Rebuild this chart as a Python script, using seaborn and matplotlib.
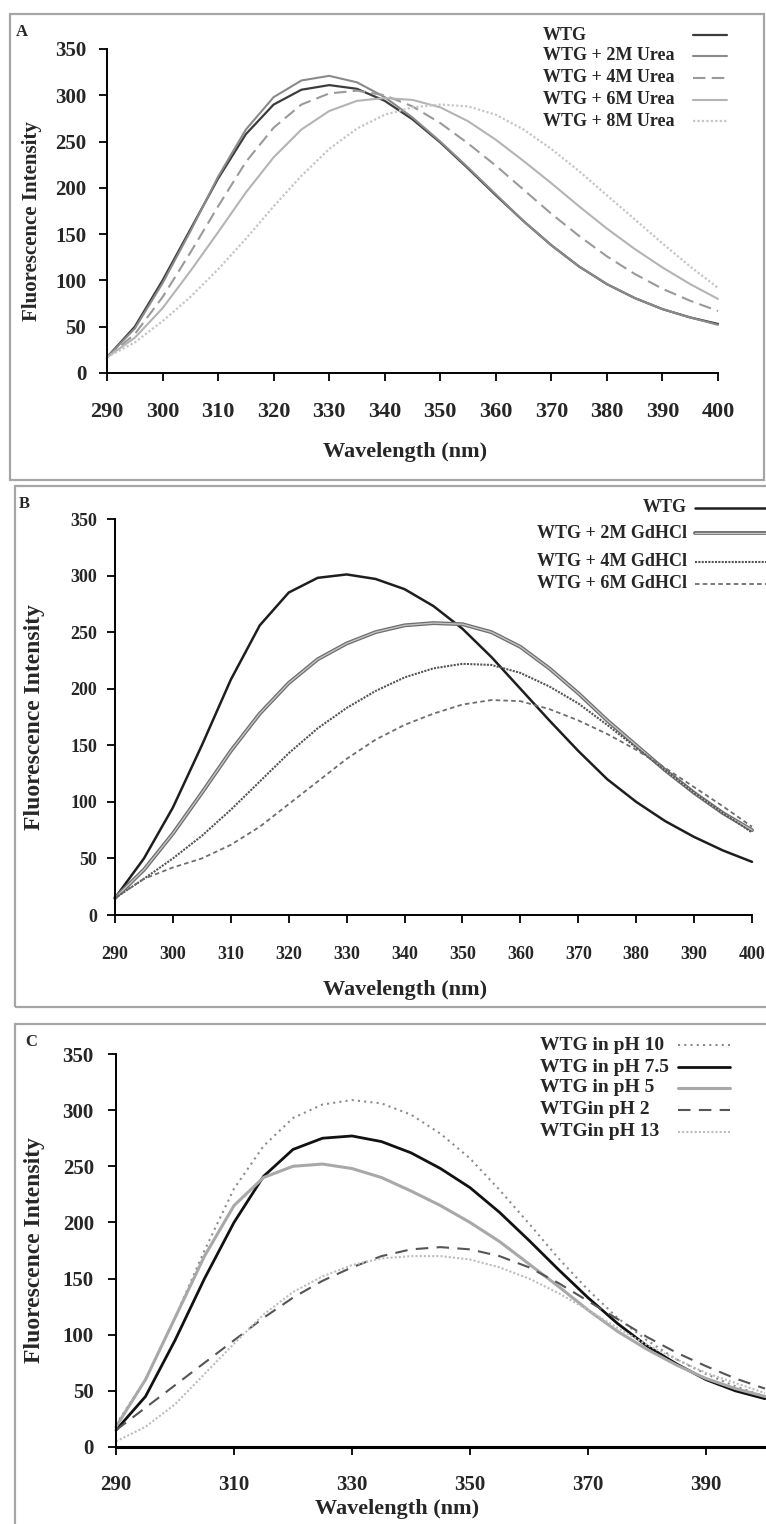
import matplotlib
matplotlib.use("Agg")
import matplotlib.pyplot as plt
from matplotlib.lines import Line2D
from matplotlib.patches import Rectangle
import pandas as pd
import seaborn as sns

# ---------------------------------------------------------------- data
wavelength = [290, 295, 300, 305, 310, 315, 320, 325, 330, 335, 340, 345,
              350, 355, 360, 365, 370, 375, 380, 385, 390, 395, 400]

# Panel A: urea denaturation
urea_labels = ["WTG", "WTG + 2M Urea", "WTG + 4M Urea", "WTG + 6M Urea", "WTG + 8M Urea"]
urea_wtg = [17, 50, 100, 155, 210, 258, 290, 306, 311, 307, 294, 274,
            249, 221, 192, 164, 138, 115, 96, 81, 69, 60, 53]
urea_2m = [17, 48, 97, 153, 212, 263, 298, 316, 321, 314, 298, 276,
           250, 222, 193, 164, 138, 115, 96, 81, 69, 60, 52]
urea_4m = [17, 42, 82, 130, 180, 228, 265, 290, 302, 305, 300, 288,
           270, 248, 224, 198, 172, 148, 126, 107, 91, 78, 67]
urea_6m = [17, 38, 70, 110, 152, 195, 233, 263, 283, 294, 297, 295,
           287, 272, 252, 229, 205, 180, 156, 134, 114, 96, 80]
urea_8m = [17, 33, 56, 82, 112, 145, 180, 213, 242, 264, 279, 287,
           290, 288, 279, 263, 242, 218, 192, 166, 140, 115, 92]

# Panel B: GdHCl denaturation
gdhcl_labels = ["WTG", "WTG + 2M GdHCl", "WTG + 4M GdHCl", "WTG + 6M GdHCl"]
gdhcl_wtg = [15, 50, 95, 150, 208, 256, 285, 298, 301, 297, 288, 273,
             253, 228, 200, 172, 145, 120, 100, 83, 69, 57, 47]
gdhcl_2m = [15, 40, 72, 108, 145, 178, 205, 226, 240, 250, 256, 258,
            257, 250, 237, 218, 196, 172, 150, 128, 108, 90, 75]
gdhcl_4m = [15, 32, 50, 70, 93, 118, 143, 165, 183, 198, 210, 218,
            222, 221, 214, 202, 187, 168, 148, 128, 108, 90, 73]
gdhcl_6m = [15, 32, 42, 50, 62, 78, 98, 118, 138, 155, 168, 178,
            186, 190, 189, 182, 172, 160, 146, 130, 113, 96, 78]

# Panel C: pH series
ph_labels = ["WTG in pH 10", "WTG in pH 7.5", "WTG in pH 5", "WTGin pH 2", "WTGin pH 13"]
ph_10 = [20, 60, 115, 175, 230, 268, 293, 305, 309, 306, 296, 279,
         257, 229, 199, 168, 140, 115, 95, 78, 65, 54, 45]
ph_75 = [15, 45, 95, 150, 200, 241, 265, 275, 277, 272, 262, 248,
         231, 209, 184, 158, 133, 110, 90, 74, 60, 50, 43]
ph_5 = [18, 60, 115, 170, 215, 240, 250, 252, 248, 240, 228, 215,
        200, 183, 163, 143, 122, 103, 87, 73, 61, 52, 45]
ph_2 = [15, 35, 55, 75, 95, 115, 133, 148, 160, 170, 176, 178,
        176, 170, 160, 146, 130, 114, 98, 84, 72, 61, 52]
ph_13 = [5, 18, 38, 65, 92, 118, 138, 152, 162, 168, 170, 170,
         167, 160, 150, 137, 122, 106, 91, 78, 66, 57, 48]

# ---------------------------------------------------------------- styling
sns.set_style("ticks")
plt.rcParams["font.family"] = ["Liberation Serif", "DejaVu Serif"]
plt.rcParams["font.weight"] = "bold"

W, H = 766, 1524
fig = plt.figure(figsize=(W / 100, H / 100), dpi=100)
fig.patch.set_facecolor("white")


def fx(x):
    return x / W


def fy(y):
    return 1 - y / H


def make_axes(left, right, top, bottom):
    return fig.add_axes([fx(left), fy(bottom), (right - left) / W, (bottom - top) / H])


def frame(x0, y0, x1, y1):
    fig.add_artist(Rectangle((fx(x0), fy(y1)), (x1 - x0) / W, (y1 - y0) / H,
                             transform=fig.transFigure, fill=False,
                             edgecolor="#a6a6a6", lw=1.6))


def style_axes(ax, xticks, xfs, yfs, xpad, ypad):
    ax.set_xlim(290, 400)
    ax.set_ylim(0, 350)
    sns.despine(ax=ax)
    ax.set_yticks(range(0, 351, 50))
    ax.set_xticks(xticks)
    ax.tick_params(direction="out", length=6, width=1.3, color="black")
    ax.tick_params(axis="x", pad=xpad, labelsize=xfs)
    ax.tick_params(axis="y", pad=ypad, labelsize=yfs)
    for lab in ax.get_xticklabels() + ax.get_yticklabels():
        lab.set_fontweight("bold")
    for s in ("left", "bottom"):
        ax.spines[s].set_linewidth(1.4)
        ax.spines[s].set_color("black")
    ax.set_xlabel("")
    ax.set_ylabel("")
    ax.patch.set_alpha(0)


def draw_series(ax, ys, label, color, ls, lw, inner=None):
    df = pd.DataFrame({"wavelength": wavelength, "intensity": ys})
    sns.lineplot(data=df, x="wavelength", y="intensity", ax=ax, color=color,
                 linestyle=ls, lw=lw, label=label, legend=False, clip_on=False)
    if inner is not None:
        # lighter core gives the doubled-stroke look
        sns.lineplot(data=df, x="wavelength", y="intensity", ax=ax, color=inner,
                     linestyle=ls, lw=lw * 0.35, legend=False, clip_on=False)


def legend_rows(labels, styles, text_x, line_x0, line_x1, rows_y, fs, ha="left"):
    for label, st, y in zip(labels, styles, rows_y):
        color, ls, lw = st[:3]
        fig.text(fx(text_x), fy(y), label, ha=ha, va="center", fontsize=fs,
                 fontweight="bold")
        fig.add_artist(Line2D([fx(line_x0), fx(line_x1)], [fy(y), fy(y)],
                              transform=fig.transFigure, color=color,
                              linestyle=ls, lw=lw))
        if len(st) > 3 and st[3] is not None:
            fig.add_artist(Line2D([fx(line_x0), fx(line_x1)], [fy(y), fy(y)],
                                  transform=fig.transFigure, color=st[3],
                                  linestyle=ls, lw=lw * 0.35))


# ---------------------------------------------------------------- panel A
frame(10, 14, 764, 480)
axA = make_axes(107, 718, 49, 373)
stylesA = [("#3c3c3c", "-", 1.6), ("#8a8a8a", "-", 1.5), ("#9a9a9a", (0, (6, 3)), 1.5),
           ("#b4b4b4", "-", 1.5), ("#c6c6c6", (0, (1, 1)), 1.6)]
for ys, lab, st in zip([urea_wtg, urea_2m, urea_4m, urea_6m, urea_8m], urea_labels, stylesA):
    draw_series(axA, ys, lab, *st)
style_axes(axA, range(290, 401, 10), 16, 15, 15, 9)
fig.text(fx(16), fy(32), "A", fontsize=12, fontweight="bold", ha="left", va="center")
fig.text(fx(32), fy(221), "Fluorescence Intensity", rotation=90, fontsize=15,
         fontweight="bold", ha="center", va="center")
fig.text(fx(405), fy(452), "Wavelength (nm)", fontsize=16, fontweight="bold",
         ha="center", va="center")
legend_rows(urea_labels, stylesA, 543, 693, 727, [35, 56, 78, 100, 121], 13)

# ---------------------------------------------------------------- panel B
frame(15, 486, 780, 1007)
axB = make_axes(115, 752, 519, 915)
stylesB = [("#1e1e1e", "-", 1.8, None), ("#6e6e6e", "-", 2.8, "#c4c4c4"),
           ("#555555", (0, (1, 0.6)), 1.5, None), ("#6e6e6e", (0, (2.5, 1.8)), 1.3, None)]
for ys, lab, st in zip([gdhcl_wtg, gdhcl_2m, gdhcl_4m, gdhcl_6m], gdhcl_labels, stylesB):
    draw_series(axB, ys, lab, *st)
style_axes(axB, range(290, 401, 10), 13, 13, 16, 7)
fig.text(fx(19), fy(504), "B", fontsize=12, fontweight="bold", ha="left", va="center")
fig.text(fx(35), fy(717), "Fluorescence Intensity", rotation=90, fontsize=17,
         fontweight="bold", ha="center", va="center")
fig.text(fx(405), fy(990), "Wavelength (nm)", fontsize=16, fontweight="bold",
         ha="center", va="center")
legend_rows(gdhcl_labels, stylesB, 687, 695, 770, [508, 533, 562, 584], 13, ha="right")

# ---------------------------------------------------------------- panel C
frame(15, 1024, 780, 1540)
axC = make_axes(116, 765, 1054, 1447)
stylesC = [("#8c8c8c", (0, (1, 2)), 1.5), ("#111111", "-", 2.0), ("#a8a8a8", "-", 2.2),
           ("#555555", (0, (6, 4)), 1.5), ("#bdbdbd", (0, (1, 1)), 1.5)]
for ys, lab, st in zip([ph_10, ph_75, ph_5, ph_2, ph_13], ph_labels, stylesC):
    draw_series(axC, ys, lab, *st)
style_axes(axC, range(290, 391, 20), 15, 15, 14, 10)
axC.spines["bottom"].set_linewidth(2.2)
fig.text(fx(25), fy(1042), "C", fontsize=12, fontweight="bold", ha="left", va="center")
fig.text(fx(35), fy(1250), "Fluorescence Intensity", rotation=90, fontsize=17,
         fontweight="bold", ha="center", va="center")
fig.text(fx(397), fy(1509), "Wavelength (nm)", fontsize=16, fontweight="bold",
         ha="center", va="center")
legend_rows(ph_labels, stylesC, 540, 678, 730, [1045, 1067, 1088, 1110, 1132], 14)

fig.savefig("out.png", dpi=100, facecolor="white")
